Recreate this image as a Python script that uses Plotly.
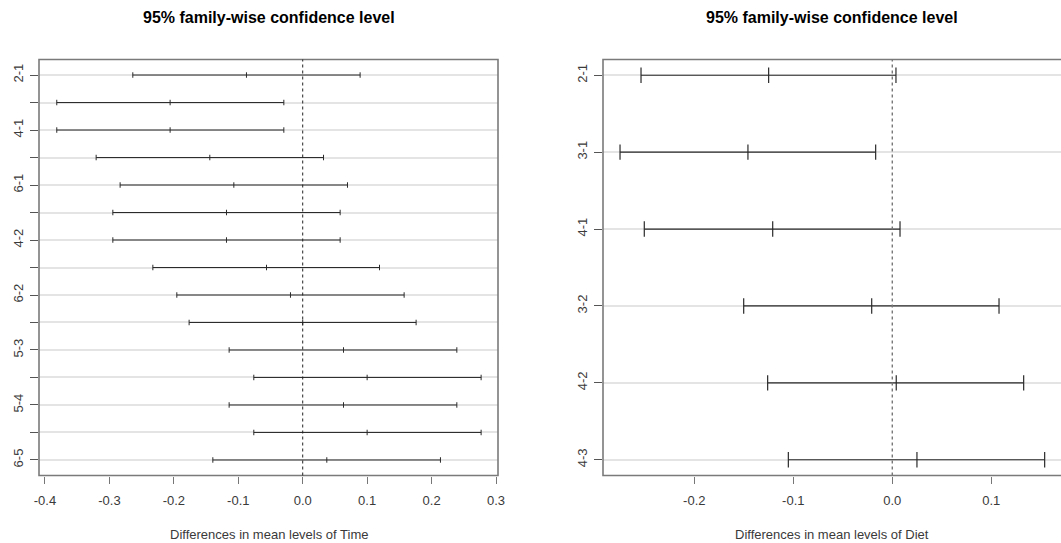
import plotly.graph_objects as go

# Tukey HSD comparisons for Time (6 levels)
time_labels = ["2-1", "3-1", "4-1", "5-1", "6-1", "3-2", "4-2", "5-2", "6-2",
               "4-3", "5-3", "6-3", "5-4", "6-4", "6-5"]
time_diff = [-0.0873, -0.2058, -0.2058, -0.1442, -0.1069, -0.1183, -0.1183, -0.0562,
             -0.0190, 0.0000, 0.0633, 0.1000, 0.0633, 0.1000, 0.0374]
time_lwr = [-0.2637, -0.3817, -0.3817, -0.3206, -0.2834, -0.2947, -0.2947, -0.2326,
            -0.1954, -0.1763, -0.1142, -0.0759, -0.1142, -0.0759, -0.1395]
time_upr = [0.0891, -0.0293, -0.0293, 0.0323, 0.0695, 0.0581, 0.0581, 0.1192,
            0.1574, 0.1760, 0.2392, 0.2769, 0.2392, 0.2769, 0.2138]

# Tukey HSD comparisons for Diet (4 levels)
diet_labels = ["2-1", "3-1", "4-1", "3-2", "4-2", "4-3"]
diet_diff = [-0.1249, -0.1458, -0.1208, -0.0208, 0.0040, 0.0249]
diet_lwr = [-0.2538, -0.2750, -0.2505, -0.1501, -0.1259, -0.1050]
diet_upr = [0.0037, -0.0168, 0.0078, 0.1078, 0.1327, 0.1539]

time_xticks = [-0.4, -0.3, -0.2, -0.1, 0.0, 0.1, 0.2, 0.3]
diet_xticks = [-0.2, -0.1, 0.0, 0.1]

title_text = "95% family-wise confidence level"
time_xlab = "Differences in mean levels of Time"
diet_xlab = "Differences in mean levels of Diet"

W, H = 1061, 543
FONT = "Liberation Sans, Arial, sans-serif"


def interval_segments(lwr, diff, upr):
    """Horizontal interval plus short vertical ticks at lwr, estimate and upr."""
    n = len(lwr)
    yvals = list(range(n, 0, -1))
    xs, ys = [], []
    for lo, d, hi, y in zip(lwr, diff, upr, yvals):
        xs += [lo, hi, None]
        ys += [y, y, None]
        for v in (lo, d, hi):
            xs += [v, v, None]
            ys += [y - 0.1, y + 0.1, None]
    return xs, ys, yvals


fig = go.Figure()

tx, ty, t_y = interval_segments(time_lwr, time_diff, time_upr)
fig.add_trace(go.Scatter(x=tx, y=ty, mode="lines", xaxis="x", yaxis="y",
                         line=dict(color="#2a2a2a", width=1), hoverinfo="skip",
                         showlegend=False))

dx, dy, d_y = interval_segments(diet_lwr, diet_diff, diet_upr)
fig.add_trace(go.Scatter(x=dx, y=dy, mode="lines", xaxis="x2", yaxis="y2",
                         line=dict(color="#2a2a2a", width=1.2), hoverinfo="skip",
                         showlegend=False))

ydom = [1 - 475.5 / H, 1 - 59.5 / H]
tick_font = dict(family=FONT, size=13, color="#3a3a3a")

common_x = dict(showgrid=False, zeroline=False, showline=False, ticks="outside",
                ticklen=7, tickwidth=1, tickcolor="#777", tickfont=tick_font,
                ticklabelstandoff=6, automargin=False)
common_y = dict(showgrid=True, gridcolor="#e4e4e4", gridwidth=1.5, zeroline=False,
                showline=False, ticks="outside", ticklen=8, tickwidth=1,
                tickcolor="#555", tickangle=-90, tickfont=tick_font,
                ticklabelstandoff=2, automargin=False)

# every other Time comparison is labelled, all rows get a tick
time_ticktext = [lab if i % 2 == 0 else "" for i, lab in enumerate(time_labels)]

fig.update_layout(
    template="none",
    width=W, height=H, autosize=False,
    margin=dict(l=0, r=0, t=0, b=0, pad=0),
    paper_bgcolor="white", plot_bgcolor="white",
    xaxis=dict(domain=[39 / W, 498 / W], range=[-0.4093, 0.3031], anchor="y",
               tickvals=time_xticks, ticktext=[f"{v:.1f}" for v in time_xticks],
               **common_x),
    yaxis=dict(domain=ydom, range=[0.435, 15.565], anchor="x",
               tickvals=t_y, ticktext=time_ticktext, **common_y),
    xaxis2=dict(domain=[603 / W, 1.0], range=[-0.2922, 0.1704], anchor="y2",
                tickvals=diet_xticks, ticktext=[f"{v:.1f}" for v in diet_xticks],
                **common_x),
    yaxis2=dict(domain=ydom, range=[0.795, 6.205], anchor="x2",
                tickvals=d_y, ticktext=diet_labels, **common_y),
)

# panel boxes and zero reference lines
fig.add_shape(type="rect", xref="x domain", yref="y domain", x0=0, x1=1, y0=0, y1=1,
              line=dict(color="#7a7a7a", width=1.6))
fig.add_shape(type="rect", xref="x2 domain", yref="y2 domain", x0=0, x1=1.01, y0=0, y1=1,
              line=dict(color="#7a7a7a", width=1.6))
fig.add_shape(type="line", xref="x", yref="y domain", x0=0, x1=0, y0=0, y1=1,
              line=dict(color="#222", width=1, dash="3px,3px"))
fig.add_shape(type="line", xref="x2", yref="y2 domain", x0=0, x1=0, y0=0, y1=1,
              line=dict(color="#777", width=1.4, dash="3px,3px"))

# titles and axis labels
for cx, xlab in ((268.5 / W, time_xlab), (832 / W, diet_xlab)):
    fig.add_annotation(text=f"<b>{title_text}</b>", x=cx, y=1 - 17 / H,
                       xref="paper", yref="paper", showarrow=False,
                       xanchor="center", yanchor="middle",
                       font=dict(family=FONT, size=16, color="#000"))
    fig.add_annotation(text=xlab, x=cx, y=1 - 534 / H,
                       xref="paper", yref="paper", showarrow=False,
                       xanchor="center", yanchor="middle",
                       font=dict(family=FONT, size=13, color="#3a3a3a"))

fig.write_html("out.html")
